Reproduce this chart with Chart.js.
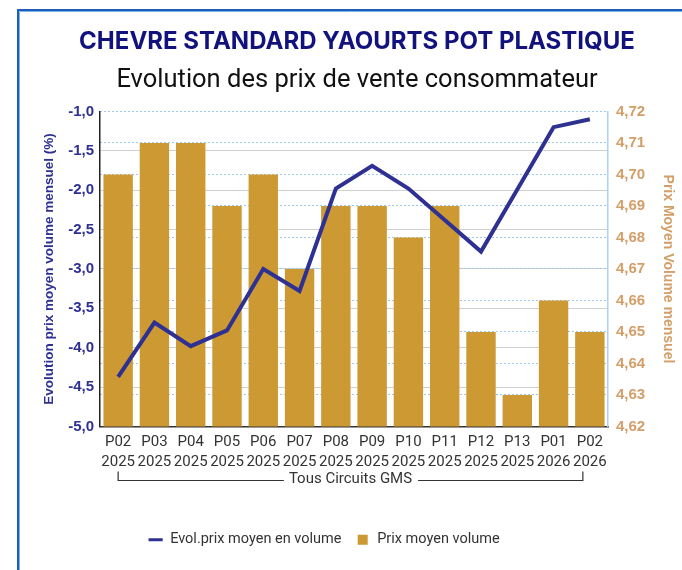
<!DOCTYPE html>
<html lang="fr">
<head>
<meta charset="utf-8">
<title>Chevre standard yaourts pot plastique</title>
<script src="https://cdn.jsdelivr.net/npm/chart.js@4.4.1/dist/chart.umd.min.js"></script>
<style>
  html, body { margin: 0; padding: 0; background: #fff; overflow: hidden; }
  #chart { display: block; }
</style>
</head>
<body>
<canvas id="chart" width="682" height="570"></canvas>
<script>
// periods on the x axis (two lines per label)
const periods = ['P02', 'P03', 'P04', 'P05', 'P06', 'P07', 'P08', 'P09', 'P10', 'P11', 'P12', 'P13', 'P01', 'P02'];
const years = ['2025', '2025', '2025', '2025', '2025', '2025', '2025', '2025', '2025', '2025', '2025', '2025', '2026', '2026'];

// series
const evolPrix = [-4.37, -3.68, -3.98, -3.78, -3.00, -3.28, -1.98, -1.69, -1.98, -2.38, -2.78, -1.99, -1.20, -1.10];
const prixMoyen = [4.70, 4.71, 4.71, 4.69, 4.70, 4.67, 4.69, 4.69, 4.68, 4.69, 4.65, 4.63, 4.66, 4.65];

// axis ranges
const leftAxis = { min: -5, max: -1, step: 0.5 };
const rightAxis = { min: 4.62, max: 4.72, step: 0.01 };

const groupLabel = 'Tous Circuits GMS';

const navy = '#2e3192';
const gold = '#cc9933';
const tan = '#d49e68';

// blue frame on the top and left side of the picture
const frame = {
  id: 'frame',
  beforeDraw(chart) {
    const ctx = chart.ctx;
    ctx.save();
    ctx.lineWidth = 2;
    ctx.strokeStyle = '#1a5fb8';
    ctx.beginPath();
    ctx.moveTo(18, chart.height);
    ctx.lineTo(18, 10);
    ctx.lineTo(chart.width, 10);
    ctx.stroke();
    ctx.lineWidth = 1;
    ctx.strokeStyle = '#7fb0ea';
    ctx.beginPath();
    ctx.moveTo(19.5, chart.height);
    ctx.lineTo(19.5, 11.5);
    ctx.lineTo(chart.width, 11.5);
    ctx.stroke();
    ctx.restore();
  }
};

// bracket under the x labels with the group name
const groupBracket = {
  id: 'groupBracket',
  afterDraw(chart) {
    const xs = chart.scales.x;
    const ctx = chart.ctx;
    const x0 = xs.getPixelForValue(0);
    const x1 = xs.getPixelForValue(periods.length - 1) - 7;
    const y = chart.chartArea.bottom + 54;
    ctx.save();
    ctx.font = '15px Roboto';
    const tw = ctx.measureText(groupLabel).width;
    const mid = (x0 + x1) / 2;
    ctx.strokeStyle = '#333';
    ctx.lineWidth = 1.2;
    ctx.beginPath();
    ctx.moveTo(x0, y - 9);
    ctx.lineTo(x0, y);
    ctx.lineTo(mid - tw / 2 - 5, y);
    ctx.moveTo(mid + tw / 2 + 6, y);
    ctx.lineTo(x1, y);
    ctx.lineTo(x1, y - 9);
    ctx.stroke();
    ctx.fillStyle = '#333';
    ctx.textAlign = 'center';
    ctx.textBaseline = 'middle';
    ctx.fillText(groupLabel, mid, y - 1.5);
    ctx.restore();
  }
};

// titles sit right of the canvas centre, the legend left of it
const boxShift = {
  id: 'boxShift',
  afterLayout(chart) {
    chart.boxes.forEach(b => {
      if (b.options && typeof b.options.text === 'string') {
        b.left += 16;
        b.right += 16;
      }
    });
    chart.legend.left -= 17;
    chart.legend.right -= 17;
  }
};

const ctx = document.getElementById('chart').getContext('2d');
new Chart(ctx, {
  data: {
    labels: periods.map((p, i) => [p, years[i]]),
    datasets: [
      {
        type: 'line',
        label: 'Evol.prix moyen en volume',
        data: evolPrix,
        yAxisID: 'y',
        borderColor: navy,
        backgroundColor: navy,
        borderWidth: 4,
        pointRadius: 0,
        tension: 0,
        order: 0,
      },
      {
        type: 'bar',
        label: 'Prix moyen volume',
        data: prixMoyen,
        yAxisID: 'y1',
        backgroundColor: gold,
        categoryPercentage: 1,
        barPercentage: 0.81,
        order: 1,
      }
    ]
  },
  options: {
    responsive: false,
    animation: false,
    layout: { padding: { left: 0, right: 0, top: 0, bottom: 13 } },
    plugins: {
      title: {
        display: true,
        text: 'CHEVRE STANDARD YAOURTS POT PLASTIQUE',
        color: '#12127e',
        font: { family: 'Inter', size: 24, weight: 'bold' },
        padding: { top: 27, bottom: 10 }
      },
      subtitle: {
        display: true,
        text: 'Evolution des prix de vente consommateur',
        color: '#111',
        font: { family: 'Roboto', size: 25.5 },
        padding: { top: 0, bottom: 15 }
      },
      legend: {
        position: 'bottom',
        labels: {
          usePointStyle: true,
          boxHeight: 10,
          padding: 14,
          color: '#333',
          font: { family: 'Roboto', size: 14.5 },
          generateLabels(chart) {
            return chart.data.datasets.map((ds, i) => ({
              text: ds.label,
              datasetIndex: i,
              fillStyle: ds.type === 'line' ? ds.borderColor : ds.backgroundColor,
              strokeStyle: ds.type === 'line' ? ds.borderColor : ds.backgroundColor,
              lineWidth: ds.type === 'line' ? 3 : 0,
              pointStyle: ds.type === 'line' ? 'line' : 'rect',
              fontColor: '#333'
            }));
          }
        }
      },
      tooltip: { enabled: false }
    },
    scales: {
      x: {
        grid: { display: false, drawTicks: false },
        border: { display: true, color: '#333', width: 1.5 },
        ticks: {
          color: '#333',
          padding: 6,
          maxRotation: 0,
          autoSkip: false,
          font: { family: 'Roboto', size: 15, lineHeight: 1.3 }
        },
        afterFit(scale) { scale.height = 92; }
      },
      y: {
        position: 'left',
        min: leftAxis.min,
        max: leftAxis.max,
        grid: {
          color: c => c.tick && c.tick.value === leftAxis.max ? 'rgba(0,0,0,0)' : '#d0d0d0',
          drawTicks: false
        },
        border: { display: true, color: '#222', width: 1.5 },
        ticks: {
          stepSize: leftAxis.step,
          padding: 6,
          color: navy,
          font: { family: 'Liberation Sans', size: 15, weight: 'bold' },
          callback: v => v.toFixed(1).replace('.', ',')
        },
        title: {
          display: true,
          text: 'Evolution prix moyen volume mensuel (%)',
          color: navy,
          font: { family: 'Liberation Sans', size: 13.5, weight: 'bold' },
          padding: { top: 41, bottom: 0 }
        },
        afterFit(scale) { scale.width = 100; }
      },
      y1: {
        position: 'right',
        min: rightAxis.min,
        max: rightAxis.max,
        grid: { color: '#9ec8ef', drawTicks: false },
        border: { display: true, color: '#a9d2f5', width: 1.5, dash: [2, 2] },
        ticks: {
          stepSize: rightAxis.step,
          padding: 8,
          color: tan,
          font: { family: 'Liberation Sans', size: 15, weight: 'bold' },
          callback: v => v.toFixed(2).replace('.', ',')
        },
        title: {
          display: true,
          text: 'Prix Moyen Volume mensuel',
          color: tan,
          font: { family: 'Liberation Sans', size: 14, weight: 'bold' },
          padding: { top: 6, bottom: 0 }
        },
        afterFit(scale) { scale.width = 74; }
      }
    }
  },
  plugins: [frame, groupBracket, boxShift]
});
</script>
</body>
</html>
